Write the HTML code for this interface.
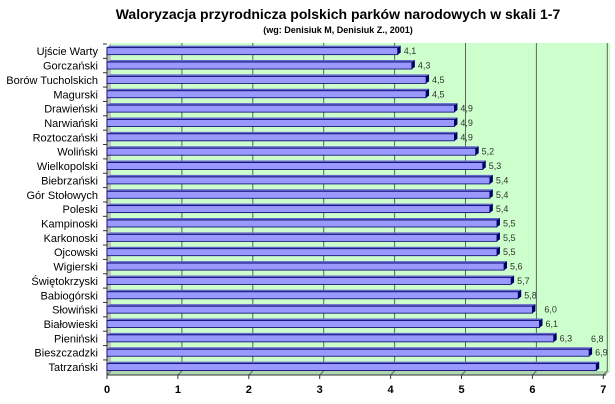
<!DOCTYPE html>
<html><head><meta charset="utf-8"><style>
body{margin:0;background:#fff;width:615px;height:404px;overflow:hidden}
svg{display:block;font-family:"Liberation Sans",Arial,sans-serif}
</style></head><body>
<svg id="s" width="615" height="404" xmlns="http://www.w3.org/2000/svg">
<text x="338" y="19" text-anchor="middle" font-size="14" font-weight="bold">Waloryzacja przyrodnicza polskich parków narodowych w skali 1-7</text>
<text x="338" y="33" text-anchor="middle" font-size="9" font-weight="bold">(wg: Denisiuk M, Denisiuk Z., 2001)</text>
<polygon points="111,43 610,43 610,371 606,375 107,375 107,47" fill="#ccffcc"/>
<polygon points="107,47 111,43 111,371 107,375" fill="#c0c0c0"/>
<polygon points="107,375 111,371 610,371 606,375" fill="#b0d8b0"/>
<g id="g"></g>
</svg>
<script>
var names=["Ujście Warty","Gorczański","Borów Tucholskich","Magurski","Drawieński","Narwiański","Roztoczański","Woliński","Wielkopolski","Biebrzański","Gór Stołowych","Poleski","Kampinoski","Karkonoski","Ojcowski","Wigierski","Świętokrzyski","Babiogórski","Słowiński","Białowieski","Pieniński","Bieszczadzki","Tatrzański"];
var v=[4.1,4.3,4.5,4.5,4.9,4.9,4.9,5.2,5.3,5.4,5.4,5.4,5.5,5.5,5.5,5.6,5.7,5.8,6.0,6.1,6.3,6.8,6.9];
var lab=["4,1","4,3","4,5","4,5","4,9","4,9","4,9","5,2","5,3","5,4","5,4","5,4","5,5","5,5","5,5","5,6","5,7","5,8","6,0","6,1","6,3","6,9",""];
var h='',X0=107,S=70.9,T=44,B=14.36;
for(var k=0;k<=7;k++){var x=X0+k*S;
 if(k>0) h+='<line x1="'+(x+4)+'" y1="43" x2="'+(x+4)+'" y2="371" stroke="#5a6a5a" stroke-width="1"/>';
 h+='<line x1="'+x+'" y1="375" x2="'+(x+4)+'" y2="371" stroke="#666"/>';
 h+='<line x1="'+x+'" y1="375" x2="'+x+'" y2="379" stroke="#333"/>';
 h+='<text x="'+x+'" y="393" text-anchor="middle" font-size="11" font-weight="bold">'+k+'</text>';}
h+='<line x1="107" y1="47" x2="107" y2="375" stroke="#333"/><line x1="107" y1="375" x2="606" y2="375" stroke="#333"/>';
for(var i=0;i<23;i++){var c=T+B*i+B/2,yt=c-3.5,e=X0+v[i]*S;
 h+='<line x1="103" y1="'+(T+B*i)+'" x2="107" y2="'+(T+B*i)+'" stroke="#333"/>';
 h+='<text x="98" y="'+(c+4)+'" text-anchor="end" font-size="11">'+names[i]+'</text>';
 h+='<polygon points="'+X0+','+yt+' '+(X0+3)+','+(yt-2)+' '+(e+3)+','+(yt-2)+' '+e+','+yt+'" fill="#6666cc"/>';
 h+='<polygon points="'+e+','+yt+' '+(e+3)+','+(yt-2)+' '+(e+3)+','+(yt+5)+' '+e+','+(yt+7)+'" fill="#000066"/>';
 h+='<rect x="'+X0+'" y="'+yt+'" width="'+(e-X0)+'" height="7" fill="#9999ff" stroke="#000066" stroke-width="0.8"/>';
 if(lab[i]){var lx=e+6; if(i==18) lx=e+12;
 h+='<text x="'+lx+'" y="'+(c+3)+'" font-size="9" fill="#333">'+lab[i]+'</text>';}
}
h+='<text x="591" y="342" font-size="9" fill="#333">6,8</text>';
document.getElementById('g').innerHTML=h;
</script>
</body></html>
